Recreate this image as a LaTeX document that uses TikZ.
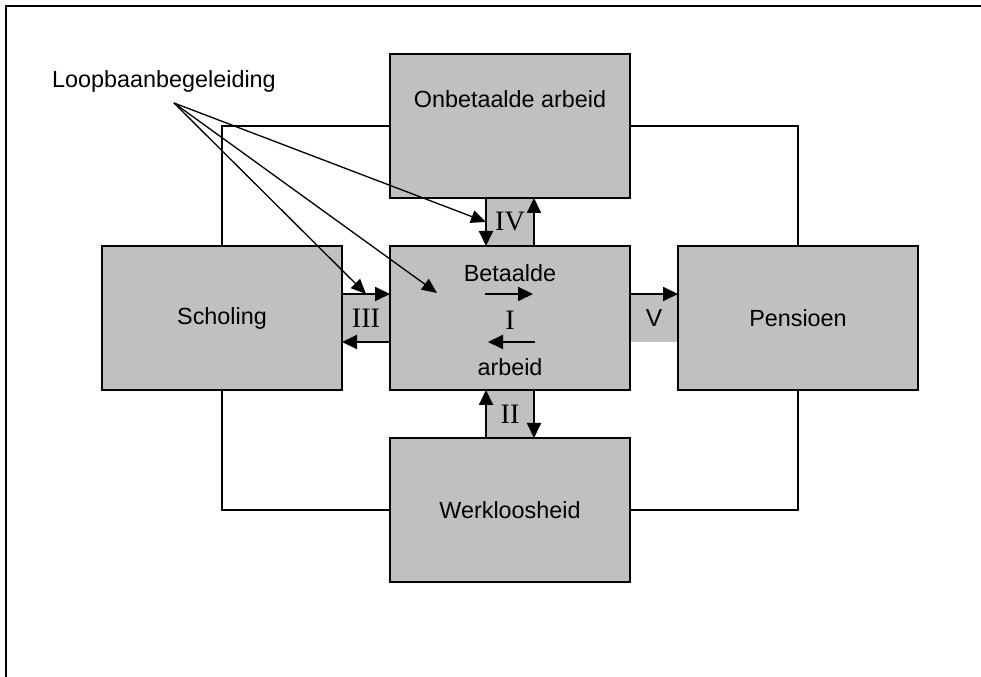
\documentclass[tikz,border=0pt]{standalone}
\usepackage{fontspec}
\setmainfont{Liberation Sans}
\newfontfamily\numfont{Liberation Serif}
\usetikzlibrary{positioning, arrows.meta, backgrounds}
\definecolor{boxgray}{RGB}{192,192,192}
\tikzset {
    >={Triangle[length=0.3cm, width=0.28cm]},
    node distance=0.96cm,
    txt/.style={font=\fontsize{13.3}{16}\selectfont},
    box/.style={txt, draw, line width=1.1pt, fill=boxgray, minimum width=4.8cm, minimum height=2.88cm, inner sep=0pt, outer sep=0pt},
    patch/.style={fill=boxgray, minimum size=0.96cm, inner sep=0pt, outer sep=0pt, font=\numfont\fontsize{16}{19}\selectfont},
    flow/.style={->, line width=1.1pt},
    guide/.style={->, line width=0.75pt, >={Triangle[length=0.3cm, width=0.26cm]}},
    link/.style={line width=0.95pt}
}
\begin{document}
\begin{tikzpicture}
    \useasboundingbox (0,0) rectangle (19.62,13.54);
    \draw[line width=1.1pt] (19.8,13.42) -| (0.12,-0.2);

    \node[box] (bet) at (10.2,7.18) {};
    \node[box, above=of bet] (onb) {};
    \node[box, below=of bet] (wer) {Werkloosheid};
    \node[box, left=of bet] (sch) {Scholing};
    \node[box, right=of bet] (pen) {Pensioen};

    \begin{scope}[on background layer]
        \node[patch, above=0pt of bet] (iv) {IV};
        \node[patch, below=0pt of bet] (ii) {II};
        \node[patch, left=0pt of bet] (iii) {III};
        \node[patch, right=0pt of bet, font=\fontsize{14}{17}\selectfont] (v) {V};
    \end{scope}

    \node[txt] (onbtxt) at ([yshift=-0.9cm]onb.north) {Onbetaalde arbeid};
    \node[txt] (bettop) at ([yshift=0.9cm]bet.center) {Betaalde};
    \node[patch, fill=none] (betnum) at ([yshift=-0.04cm]bet.center) {I};
    \node[txt] (betbot) at ([yshift=-0.98cm]bet.center) {arbeid};

    \draw[link] (sch.north) |- (onb.west);
    \draw[link] (onb.east) -| (pen.north);
    \draw[link] (pen.south) |- (wer.east);
    \draw[link] (wer.west) -| (sch.south);

    \draw[flow] (iv.north west) -- (iv.south west);
    \draw[flow] (iv.south east) -- (iv.north east);
    \draw[flow] (ii.south west) -- (ii.north west);
    \draw[flow] (ii.north east) -- (ii.south east);
    \draw[flow] (iii.north west) -- (iii.north east);
    \draw[flow] (iii.south east) -- (iii.south west);
    \draw[flow] (v.north west) -- (v.north east);

    \coordinate (ra) at ([shift={(-0.5,0.48)}]bet.center);
    \coordinate (rb) at ([shift={(0.46,0.48)}]bet.center);
    \coordinate (la) at ([shift={(0.5,-0.48)}]bet.center);
    \coordinate (lb) at ([shift={(-0.44,-0.48)}]bet.center);
    \draw[flow] (ra) -- (rb);
    \draw[flow] (la) -- (lb);

    \node[txt] (lbb) at (3.28,11.92) {Loopbaanbegeleiding};
    \coordinate (lbbfoot) at (3.48,11.48);
    \coordinate (betin) at ([shift={(-1.46,0.5)}]bet.center);
    \draw[guide] (lbbfoot) -- (iv.west);
    \draw[guide] (lbbfoot) -- (betin);
    \draw[guide] (lbbfoot) -- (iii.north);
\end{tikzpicture}
\end{document}
